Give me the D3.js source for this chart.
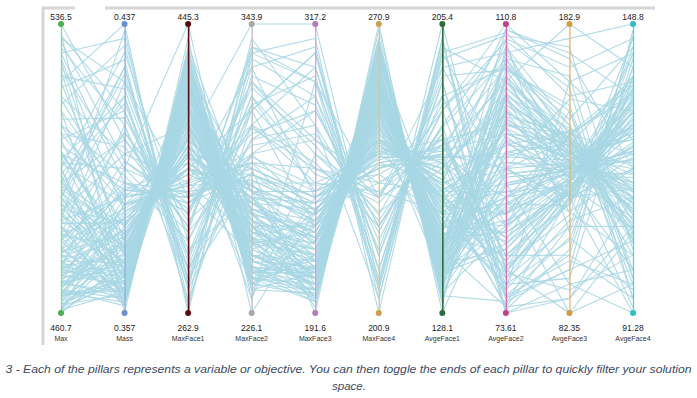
<!DOCTYPE html>
<html>
<head>
<meta charset="utf-8">
<script src="https://cdn.jsdelivr.net/npm/d3@7"></script>
<style>
  body { margin: 0; background: #fff; }
  svg { display: block; }
</style>
</head>
<body>
<svg id="chart" width="697" height="398"></svg>
<script>
// pillar names, ends and colours
const dims = ["Max", "Mass", "MaxFace1", "MaxFace2", "MaxFace3", "MaxFace4", "AvgeFace1", "AvgeFace2", "AvgeFace3", "AvgeFace4"];
const topLabels = ["536.5", "0.437", "445.3", "343.9", "317.2", "270.9", "205.4", "110.8", "182.9", "148.8"];
const bottomLabels = ["460.7", "0.357", "262.9", "226.1", "191.6", "200.9", "128.1", "73.61", "82.35", "91.28"];
const lows = [460.7, 0.357, 262.9, 226.1, 191.6, 200.9, 128.1, 73.61, 82.35, 91.28];
const highs = [536.5, 0.437, 445.3, 343.9, 317.2, 270.9, 205.4, 110.8, 182.9, 148.8];
const lineColors = ["#8fd88f", "#8fb0e0", "#5a0c0c", "#bdbdbd", "#d3a3da", "#e2c383", "#2f6b3a", "#d56fb3", "#e8b466", "#55d2d2"];
const dotColors = ["#4caf50", "#6a8fd0", "#5a0c0c", "#a8a8a8", "#b878c0", "#c8a050", "#2f6b3a", "#c0408a", "#d49a40", "#30c0c0"];

// solution values, one array per pillar (same row order in each)
const maxVals = [466.8,472.1,463.0,477.4,469.8,464.5,483.4,474.3,468.3,461.5,487.2,470.6,466.0,479.6,475.9,463.7,491.0,469.0,465.2,481.9,472.8,462.2,485.0,467.5,478.1,471.3,465.2,489.5,473.6,461.5,480.4,469.8,492.5,466.8,475.9,463.7,483.4,472.1,468.3,486.5,463.0,476.6,466.0,481.2,470.6,460.7,488.0,474.3,536.5,528.9,521.3,513.8,532.7,506.2,525.1,498.6,517.5,491.0,510.0,530.4,502.4,494.8,527.4,515.3,507.7,497.1,534.2,500.1,522.9,487.2,519.8,504.7,511.5,492.5,532.0,479.6,516.8,500.9,526.6,485.0,
  494.8,485.0,502.4,477.4,498.6,469.8,506.2,464.5,497.1,479.6,472.8,491.0,463.0,500.1,468.3,486.5,475.9,461.5,494.1,466.8,481.9,471.3,503.1,465.2,489.5,474.3,462.2,495.6,478.9,469.0,484.2,463.7,492.5,472.1,480.4,467.5,498.6,475.1,465.2,488.0,461.5,483.4,470.6,501.6,476.6,466.0,490.3,473.6,463.0,493.3,510.0,487.2,521.3,472.1,528.9,481.2,513.8,494.8,468.3,533.5,503.1,477.4,524.4,491.0,507.7];
const massVals = [0.361,0.365,0.367,0.363,0.369,0.373,0.359,0.371,0.377,0.363,0.367,0.375,0.381,0.362,0.370,0.379,0.365,0.368,0.385,0.360,0.373,0.366,0.371,0.376,0.359,0.383,0.364,0.374,0.368,0.378,0.363,0.372,0.367,0.387,0.361,0.375,0.369,0.380,0.363,0.371,0.367,0.379,0.360,0.375,0.365,0.371,0.382,0.362,0.405,0.433,0.437,0.389,0.421,0.413,0.397,0.429,0.401,0.417,0.381,0.409,0.393,0.425,0.385,0.431,0.403,0.415,0.357,0.397,0.419,0.407,0.427,0.391,0.411,0.423,0.399,0.407,0.387,0.417,0.373,0.435,
  0.381,0.389,0.377,0.385,0.363,0.391,0.369,0.384,0.360,0.393,0.367,0.376,0.362,0.387,0.371,0.365,0.391,0.367,0.379,0.359,0.383,0.370,0.373,0.389,0.363,0.378,0.374,0.367,0.386,0.361,0.382,0.368,0.375,0.364,0.390,0.372,0.359,0.380,0.366,0.371,0.387,0.362,0.376,0.368,0.383,0.363,0.375,0.392,0.369,0.379,0.395,0.401,0.377,0.409,0.393,0.421,0.361,0.405,0.397,0.413,0.375,0.399,0.367,0.425,0.387];
const maxFace1Vals = [427.1,417.9,408.8,423.4,399.7,390.6,430.7,394.2,381.5,412.5,405.2,372.3,363.2,419.8,386.9,354.1,408.8,397.9,345.0,425.2,376.0,416.1,383.3,368.7,428.9,357.7,410.6,379.6,401.5,365.0,421.6,388.8,403.4,339.5,417.9,374.2,396.1,361.4,414.3,385.1,407.0,366.9,423.4,377.8,405.2,392.4,354.1,419.8,317.6,281.1,262.9,372.3,335.9,299.4,445.3,308.5,345.0,270.0,390.6,290.3,326.7,284.8,354.1,277.5,317.6,303.0,436.2,335.9,295.7,321.3,266.5,357.7,314.0,290.3,332.2,324.9,368.7,284.8,399.7,270.0,
  363.2,345.0,372.3,350.5,390.6,335.9,397.9,354.1,405.2,332.2,394.2,368.7,412.5,346.8,379.6,401.5,339.5,390.6,361.4,419.8,357.7,383.3,376.0,343.2,408.8,372.3,386.9,394.2,350.5,416.1,354.1,397.9,365.0,405.2,335.9,383.3,412.5,361.4,401.5,379.6,343.2,408.8,372.3,390.6,354.1,405.2,368.7,332.2,394.2,361.4,308.5,381.5,408.8,281.1,339.5,299.4,427.1,324.9,314.0,292.1,390.6,328.6,417.9,277.5,354.1];
const maxFace2Vals = [243.8,249.7,255.5,237.9,261.4,240.2,267.3,252.0,259.1,235.5,263.8,247.3,273.2,242.6,254.4,266.2,244.9,270.9,256.7,240.2,261.4,275.6,249.7,237.9,256.7,268.5,247.3,277.9,242.6,259.1,252.0,263.8,237.9,249.7,261.4,270.9,244.9,254.4,240.2,266.2,249.7,275.6,235.5,256.7,268.5,242.6,261.4,247.3,320.3,308.6,332.1,343.9,290.9,314.5,232.0,302.7,326.2,338.0,285.0,296.8,320.3,279.1,308.6,290.9,332.1,273.2,226.1,299.1,314.5,287.4,322.7,267.3,334.5,282.7,294.4,310.9,261.4,326.2,275.6,302.7,
  285.0,287.4,275.6,270.9,266.2,282.7,259.1,277.9,249.7,289.7,256.7,273.2,244.9,285.0,261.4,252.0,280.3,240.2,270.9,237.9,268.5,254.4,263.8,287.4,247.3,275.6,242.6,259.1,282.7,237.9,273.2,249.7,266.2,244.9,285.0,256.7,240.2,277.9,247.3,261.4,280.3,242.6,268.5,254.4,273.2,249.7,263.8,282.7,244.9,275.6,308.6,232.0,267.3,329.8,302.7,296.8,255.5,318.0,290.9,310.9,243.8,301.5,235.5,334.5,279.1];
const maxFace3Vals = [204.2,210.4,201.6,216.7,197.9,223.0,206.7,229.3,210.4,200.4,219.2,235.6,204.2,214.2,196.6,226.8,209.2,221.7,231.8,201.6,211.7,239.3,206.7,216.7,199.1,224.3,204.2,234.3,211.7,219.2,209.2,201.6,229.3,214.2,206.7,221.7,199.1,226.8,211.7,216.7,204.2,231.8,209.2,214.2,224.3,196.6,229.3,206.7,267.0,304.6,310.9,317.2,279.5,254.4,292.1,298.4,241.8,273.2,191.6,285.8,260.7,248.1,304.6,267.0,292.1,210.4,235.6,279.5,244.4,254.4,282.0,223.0,298.4,239.3,269.5,251.9,206.7,307.2,201.6,256.9,
  241.8,229.3,244.4,236.8,214.2,239.3,221.7,234.3,204.2,246.9,209.2,219.2,201.6,241.8,211.7,206.7,236.8,196.6,226.8,199.1,231.8,216.7,214.2,244.4,204.2,224.3,209.2,216.7,234.3,201.6,239.3,206.7,229.3,199.1,241.8,219.2,204.2,229.3,211.7,221.7,236.8,201.6,226.8,209.2,234.3,204.2,224.3,241.8,206.7,231.8,229.3,260.7,194.1,285.8,248.1,273.2,216.7,264.4,235.6,294.6,197.9,254.4,241.8,292.1,214.2];
const maxFace4Vals = [265.3,262.5,260.4,256.9,263.9,253.4,258.3,249.9,255.5,267.4,251.3,246.4,261.1,254.1,264.6,244.3,259.7,248.5,241.5,263.2,256.9,242.9,261.8,252.7,266.0,247.1,259.0,240.1,256.2,250.6,262.5,259.7,245.7,254.8,263.9,249.2,265.3,245.0,257.6,252.0,261.1,242.2,264.6,253.4,247.8,266.7,243.6,260.4,228.9,211.4,200.9,207.9,221.9,232.4,228.9,214.9,235.9,204.4,270.9,218.4,225.4,239.4,206.5,232.4,214.9,262.5,246.4,221.9,237.3,230.3,216.3,249.9,209.3,234.5,224.7,228.9,256.9,204.4,263.9,221.9,
  239.4,237.3,242.9,240.8,249.9,235.9,251.3,238.7,256.9,234.5,252.7,245.7,255.5,240.1,248.5,254.1,236.6,258.3,244.3,261.1,241.5,249.9,247.1,238.0,255.5,242.9,252.0,250.6,239.4,259.7,240.1,254.1,242.9,257.6,237.3,247.8,256.2,242.2,251.3,246.4,238.7,256.9,245.0,249.2,240.8,254.8,244.3,235.9,253.4,241.5,256.9,228.9,269.5,211.4,230.3,220.5,260.4,223.3,232.4,207.9,267.4,227.5,242.9,206.5,253.4];
const avgeFace1Vals = [137.4,143.6,139.7,147.4,135.8,151.3,142.0,155.2,145.1,134.3,149.7,159.0,138.9,152.8,132.7,160.6,140.5,157.5,162.9,138.1,146.7,165.2,143.6,151.3,135.1,155.9,141.2,166.8,144.3,149.0,138.9,136.6,158.2,145.9,140.5,154.4,133.5,161.3,142.8,150.5,137.4,163.7,135.8,148.2,156.7,132.0,159.8,139.7,182.2,189.9,201.5,205.4,178.3,174.5,193.8,186.1,170.6,197.7,128.1,182.2,166.8,159.0,199.2,170.6,189.9,151.3,137.4,176.0,162.9,173.0,191.5,145.1,196.1,154.4,183.8,168.3,143.6,200.8,134.3,178.3,
  174.5,170.6,168.3,166.8,160.6,173.0,154.4,169.8,145.1,174.5,149.7,159.0,138.9,171.4,152.8,146.7,168.3,135.8,162.1,137.4,165.2,155.9,157.5,172.2,142.0,163.7,148.2,151.3,169.1,140.5,166.8,143.6,160.6,138.9,171.4,154.4,141.2,165.2,146.7,157.5,169.8,137.4,162.1,149.7,168.3,140.5,159.0,173.0,145.1,163.7,139.7,186.1,131.2,193.8,155.2,182.2,132.7,177.6,160.6,197.7,130.4,176.0,143.6,201.5,151.3];
const avgeFace2Vals = [99.6,90.3,103.4,86.6,95.9,82.9,101.5,92.2,97.8,88.5,81.0,94.1,100.4,84.8,96.7,89.2,102.6,79.2,93.0,98.5,87.7,95.2,104.1,84.0,91.5,97.4,81.8,100.8,93.7,85.5,101.9,90.0,80.3,99.3,87.4,96.3,84.4,92.2,101.1,88.5,94.4,83.3,98.2,91.1,86.3,100.0,95.6,82.5,110.8,75.5,73.61,79.2,108.9,77.3,107.1,105.2,75.5,109.7,92.2,78.1,107.8,74.7,103.4,110.1,73.61,99.6,106.3,76.6,108.6,81.0,104.9,74.4,109.3,77.3,105.6,75.8,107.1,78.8,104.1,74.0,
  97.8,92.2,84.8,101.5,78.1,105.2,87.7,94.1,106.3,81.0,103.4,90.3,85.5,96.7,77.3,104.9,88.5,98.9,82.5,94.4,102.6,79.6,99.6,86.3,93.0,105.6,84.0,97.4,78.8,90.0,100.4,87.0,95.2,81.8,103.4,91.5,98.2,80.3,101.9,89.2,93.7,84.8,96.7,78.8,104.1,88.5,83.3,98.9,92.2,86.3,95.9,84.8,101.5,90.3,76.6,108.6,75.1,106.3,74.4,92.2,107.8,79.6,110.1,75.8,88.5];
const avgeFace3Vals = [137.7,132.6,142.7,127.6,134.6,144.7,130.6,122.6,140.7,135.6,124.6,132.6,138.7,129.6,136.6,126.6,142.7,120.6,133.6,137.7,131.6,145.7,139.7,125.6,132.6,122.6,128.6,141.7,135.6,123.6,136.6,130.6,127.6,143.7,133.6,129.6,134.6,121.6,138.7,126.6,140.7,124.6,135.6,131.6,137.7,132.6,127.6,129.6,162.8,102.5,92.4,82.35,167.8,107.5,177.9,152.7,97.4,157.8,117.5,112.5,147.7,122.6,182.9,172.8,87.4,122.6,144.7,114.5,160.8,102.5,154.7,112.5,174.9,94.4,149.7,108.5,142.7,90.4,127.6,104.5,
  144.7,142.7,140.7,146.7,122.6,147.7,119.6,145.7,137.7,120.6,134.6,132.6,130.6,141.7,125.6,136.6,143.7,129.6,124.6,133.6,139.7,126.6,137.7,144.7,131.6,140.7,123.6,135.6,121.6,132.6,142.7,128.6,138.7,125.6,145.7,133.6,136.6,122.6,139.7,130.6,143.7,127.6,135.6,124.6,141.7,131.6,126.6,144.7,134.6,128.6,122.6,152.7,117.5,92.4,162.8,110.5,97.4,164.8,87.4,156.8,132.6,116.5,170.8,100.5,82.35];
const avgeFace4Vals = [125.8,128.7,117.2,131.5,114.3,134.4,122.9,120.0,111.4,127.1,132.7,117.2,108.5,129.8,121.2,124.6,113.1,136.1,115.4,128.1,121.8,109.7,118.9,131.5,123.5,116.0,133.8,110.8,126.4,129.2,120.0,124.1,135.0,114.3,127.5,118.3,131.0,122.3,112.0,125.2,120.6,133.3,116.0,128.7,113.1,123.5,119.5,132.1,143.0,94.2,91.28,97.0,145.9,140.2,148.8,99.9,105.7,137.3,102.8,143.0,97.0,91.28,140.2,134.4,108.5,145.9,105.7,114.3,94.2,141.9,98.2,108.5,103.9,138.4,144.2,95.9,111.4,102.8,99.9,146.5,
  137.3,107.4,138.4,105.7,131.5,109.7,136.1,115.4,125.8,134.4,108.0,138.4,112.6,105.1,129.8,116.6,136.7,110.3,123.5,132.7,106.8,128.1,114.3,135.0,118.9,102.8,130.4,112.0,137.9,121.8,108.5,133.8,115.4,127.1,110.8,135.6,117.2,124.6,106.2,131.0,113.7,136.7,109.1,128.7,116.0,133.3,108.0,122.9,113.1,135.6,143.0,94.2,120.0,99.9,125.8,140.2,147.6,98.2,114.3,131.5,92.4,144.2,120.0,97.0,107.4];

const columns = [maxVals, massVals, maxFace1Vals, maxFace2Vals, maxFace3Vals, maxFace4Vals, avgeFace1Vals, avgeFace2Vals, avgeFace3Vals, avgeFace4Vals];
const rows = maxVals.map((_, i) => columns.map(c => c[i]));

const svg = d3.select("#chart");
const yTop = 24, yBottom = 313;

const x = d3.scalePoint()
    .domain(dims)
    .range([61, 633]);

const y = dims.map((d, i) => d3.scaleLinear()
    .domain([lows[i], highs[i]])
    .range([yBottom, yTop]));

// grey frame of the screenshot
svg.append("line").attr("x1", 43).attr("x2", 43).attr("y1", 7).attr("y2", 345)
    .attr("stroke", "#d6d6d6").attr("stroke-width", 3);
svg.append("line").attr("x1", 42).attr("x2", 75).attr("y1", 8).attr("y2", 8)
    .attr("stroke", "#d6d6d6").attr("stroke-width", 3);
svg.append("line").attr("x1", 105).attr("x2", 655).attr("y1", 8).attr("y2", 8)
    .attr("stroke", "#d6d6d6").attr("stroke-width", 3);

const line = d3.line()
    .x((d, i) => x(dims[i]))
    .y((d, i) => y[i](d));

svg.append("g")
    .attr("class", "foreground")
    .selectAll("path")
    .data(rows)
    .enter()
    .append("path")
    .attr("d", line)
    .attr("fill", "none")
    .attr("stroke", "#a9d7e4")
    .attr("stroke-width", 1.1)
    .attr("opacity", 0.9);

const axes = svg.selectAll(".pillar")
    .data(dims)
    .enter()
    .append("g")
    .attr("class", "pillar")
    .attr("transform", d => "translate(" + x(d) + ",0)");

axes.each(function(d, i) {
    const g = d3.select(this);
    const axis = d3.axisLeft(y[i]).tickValues([]).tickSize(0);
    g.call(axis);
    g.select(".domain")
        .attr("stroke", lineColors[i])
        .attr("stroke-width", i == 2 || i == 6 ? 1.6 : 1.3);
});

axes.append("circle")
    .attr("cy", yTop)
    .attr("r", 3)
    .attr("fill", (d, i) => dotColors[i]);

axes.append("circle")
    .attr("cy", yBottom)
    .attr("r", 3)
    .attr("fill", (d, i) => dotColors[i]);

axes.append("text")
    .attr("y", 20)
    .attr("text-anchor", "middle")
    .attr("font-family", "Liberation Sans, Arial, sans-serif")
    .attr("font-size", "8.5px")
    .attr("fill", "#222")
    .text((d, i) => topLabels[i]);

axes.append("text")
    .attr("y", 331)
    .attr("text-anchor", "middle")
    .attr("font-family", "Liberation Sans, Arial, sans-serif")
    .attr("font-size", "8.5px")
    .attr("fill", "#222")
    .text((d, i) => bottomLabels[i]);

axes.append("text")
    .attr("y", 341)
    .attr("text-anchor", "middle")
    .attr("font-family", "Liberation Sans, Arial, sans-serif")
    .attr("font-size", "7px")
    .attr("fill", "#333")
    .text(d => d);

// caption
const caption = svg.append("g")
    .attr("font-family", "Liberation Sans, Arial, sans-serif")
    .attr("font-style", "italic")
    .attr("font-size", "11.5px")
    .attr("fill", "#3b4a63");

caption.append("text")
    .attr("x", 348.5)
    .attr("y", 373)
    .attr("text-anchor", "middle")
    .attr("textLength", 686)
    .attr("lengthAdjust", "spacingAndGlyphs")
    .text("3 - Each of the pillars represents a variable or objective. You can then toggle the ends of each pillar to quickly filter your solution");

caption.append("text")
    .attr("x", 349)
    .attr("y", 390)
    .attr("text-anchor", "middle")
    .text("space.");
</script>
</body>
</html>
